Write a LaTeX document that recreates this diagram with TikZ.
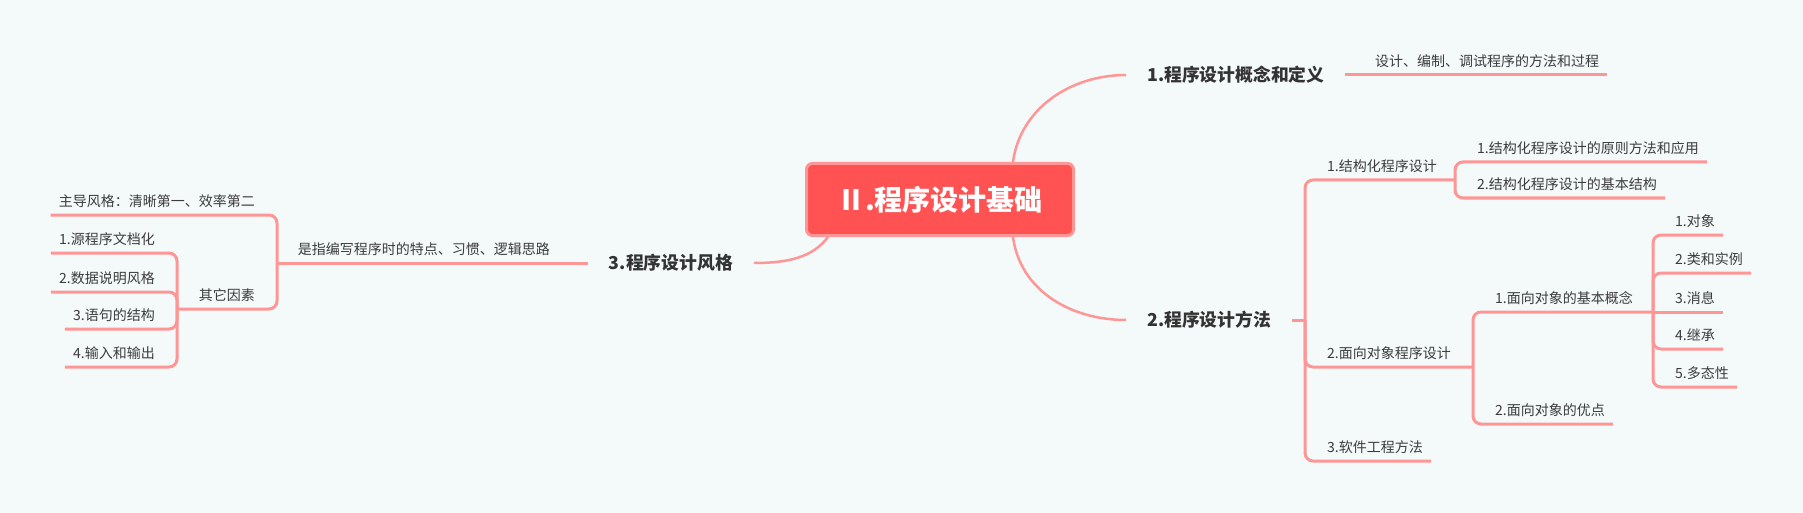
\documentclass[tikz,border=0pt]{standalone}
\usepackage{fontspec}
\setmainfont{Noto Sans CJK SC}
\definecolor{bg}{HTML}{F4F9F9}
\definecolor{ln}{HTML}{FF9696}
\definecolor{rootfill}{HTML}{FF5252}
\definecolor{txt}{HTML}{3C3C3C}
\definecolor{toptxt}{HTML}{333333}
\tikzset{
 root/.style={draw=ln, line width=3pt, fill=rootfill, rounded corners=6pt, minimum width=267pt, minimum height=72pt, text=white, font=\fontsize{28}{30}\selectfont\bfseries, text height=24pt, text depth=2.8pt},
 topic/.style={inner xsep=21pt, inner ysep=0pt, text=toptxt, font=\fontsize{17.8}{20}\selectfont\bfseries, text height=15.4pt, text depth=2pt},
 leaf/.style={inner xsep=8pt, inner ysep=5.2pt, text=txt, font=\fontsize{14}{16}\selectfont, text height=11pt, text depth=3pt},
 rleaf/.style={leaf, anchor=south west},
 lleaf/.style={leaf, anchor=south east},
 conn/.style={draw=ln, line width=3pt, rounded corners=8pt},
 curve/.style={draw=ln, line width=2.5pt},
}
\begin{document}
\begin{tikzpicture}[x=1pt,y=-1pt]
\path[use as bounding box, fill=bg] (0,0) rectangle (1803,513);

% root and topics
\node[root] (c) at (940,199.5) {Ⅱ.程序设计基础};
\node[topic, anchor=west] (t1) at (1126,75) {1.程序设计概念和定义};
\node[topic, anchor=west] (t2) at (1126,320) {2.程序设计方法};
\node[topic, anchor=east] (t3) at (754,263) {3.程序设计风格};

\draw[curve] ([xshift=73pt]c.north) .. controls +(7,-53) and +(-56,0) .. (t1.west);
\draw[curve] ([xshift=73pt]c.south) .. controls +(7,53) and +(-56,0) .. (t2.west);
\draw[curve] ([xshift=-112pt]c.south) .. controls +(-15,20) and +(35,0) .. (t3.east);

% topic 1
\coordinate (j1) at (1353,75);
\node[rleaf] (a1) at (1367,75) {设计、编制、调试程序的方法和过程};
\draw[conn] (t1.east) -- (j1) -- (a1.south east);

% topic 2
\coordinate (j2) at (1305,320);
\draw[conn] (t2.east) -- (j2);
\node[rleaf] (b1) at (1319,180) {1.结构化程序设计};
\coordinate (jb1) at (1455,180);
\draw[conn] (j2) |- (jb1);
\node[rleaf] (b11) at (1469,162) {1.结构化程序设计的原则方法和应用};
\node[rleaf] (b12) at (1469,198) {2.结构化程序设计的基本结构};
\draw[conn] (jb1) |- (b11.south east);
\draw[conn] (jb1) |- (b12.south east);

\node[rleaf] (b2) at (1319,367) {2.面向对象程序设计};
\coordinate (jb2) at (1473,367);
\draw[conn] (j2) |- (jb2);
\node[rleaf] (b21) at (1487,312) {1.面向对象的基本概念};
\coordinate (jb21) at (1653,312);
\draw[conn] (jb2) |- (jb21);
\node[rleaf] (b211) at (1667,235) {1.对象};
\node[rleaf] (b212) at (1667,273) {2.类和实例};
\node[rleaf] (b213) at (1667,312) {3.消息};
\node[rleaf] (b214) at (1667,349) {4.继承};
\node[rleaf] (b215) at (1667,387) {5.多态性};
\draw[conn] (jb21) |- (b211.south east);
\draw[conn] (jb21) |- (b212.south east);
\draw[conn] (jb21) -- (b213.south east);
\draw[conn] (jb21) |- (b214.south east);
\draw[conn] (jb21) |- (b215.south east);
\node[rleaf] (b22) at (1487,424) {2.面向对象的优点};
\draw[conn] (jb2) |- (b22.south east);

\node[rleaf] (b3) at (1319,461) {3.软件工程方法};
\draw[conn] (j2) |- (b3.south east);

% topic 3
\coordinate (j3) at (572,263);
\draw[conn] (t3.west) -- (j3);
\node[lleaf] (d1) at (558,263) {是指编写程序时的特点、习惯、逻辑思路};
\coordinate (jd1) at (277,263);
\draw[conn] (j3) -- (jd1);
\node[lleaf] (d11) at (263,215) {主导风格：清晰第一、效率第二};
\node[lleaf] (d12) at (263,309) {其它因素};
\coordinate (jd12) at (177,309);
\draw[conn] (jd1) |- (d11.south west);
\draw[conn] (jd1) |- (jd12);
\node[lleaf] (d121) at (163,253) {1.源程序文档化};
\node[lleaf] (d122) at (163,292) {2.数据说明风格};
\node[lleaf] (d123) at (163,329) {3.语句的结构};
\node[lleaf] (d124) at (163,367) {4.输入和输出};
\draw[conn] (jd12) |- (d121.south west);
\draw[conn] (jd12) |- (d122.south west);
\draw[conn] (jd12) |- (d123.south west);
\draw[conn] (jd12) |- (d124.south west);
\end{tikzpicture}
\end{document}
